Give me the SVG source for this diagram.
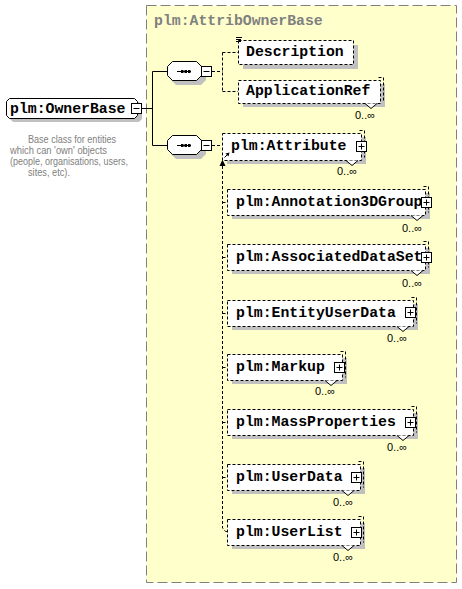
<svg xmlns="http://www.w3.org/2000/svg" width="462" height="589" viewBox="0 0 462 589">
<style>
.bg{fill:#ffffcc;stroke:#808080;stroke-width:1;stroke-dasharray:10,4}
.title{font-family:"Liberation Mono",monospace;font-weight:bold;font-size:14.8px;fill:#808080}
.nt{font-family:"Liberation Mono",monospace;font-weight:bold;font-size:14.8px;fill:#000}
.sh{fill:#c0c0c0}
.box{fill:#fff;stroke:#000;stroke-width:1;stroke-dasharray:3,2}
.sbox{fill:#fff;stroke:#000;stroke-width:1}
.btn{fill:#fff;stroke:#000;stroke-width:1}
.ln{stroke:#000;stroke-width:1;fill:none}
.dl{stroke:#000;stroke-width:1;fill:none;stroke-dasharray:3,2}
.occ{font-family:"Liberation Sans",Arial,sans-serif;font-size:11px;fill:#000}
.doc{font-family:"Liberation Sans",Arial,sans-serif;font-size:10.5px;fill:#808080}
.chev{fill:#fff;stroke:#000;stroke-width:1}
</style>
<defs>
<g id="minus"><rect class="btn" x="0.5" y="0.5" width="10" height="10"/><path class="ln" d="M2.5,5.5H8.5"/></g>
<g id="plus"><rect class="btn" x="0.5" y="0.5" width="10" height="10"/><path class="ln" d="M2.5,5.5H8.5M5.5,2.5V8.5"/></g>
<g id="seq">
<polygon class="sh" points="176,65 201,65 206,70 206,80 201,85 176,85 171,80 171,70"/>
<polygon class="sbox" points="172.5,61.5 196.5,61.5 201.5,66.5 201.5,75.5 196.5,80.5 172.5,80.5 167.5,75.5 167.5,66.5"/>
<path class="ln" d="M177,71.5H191"/>
<rect x="181" y="70" width="2.5" height="3" fill="#000"/>
<rect x="184.5" y="70" width="2.5" height="3" fill="#000"/>
<rect x="188" y="70" width="2.5" height="3" fill="#000"/>
</g>
</defs>

<rect class="bg" x="146.5" y="5.5" width="310" height="577"/>
<text class="title" x="154" y="25">plm:AttribOwnerBase</text>

<g id="connectors">
<path class="ln" d="M142,108.5H152.5M152.5,71.5V145.5M152.5,71.5H167M152.5,145.5H167"/>
<path class="dl" d="M212,71.5H222.5M222.5,52.5V91.5M222.5,52.5H238M222.5,91.5H238"/>
<path class="dl" d="M212,145.5H222"/>
<path class="dl" d="M222.5,166V528L225.5,531.5H227"/>
<path class="dl" d="M222.5,202.5H227M222.5,257.5H227M222.5,313.5H227M222.5,367.5H227M222.5,422.5H227M222.5,477.5H227"/>
<polygon points="222.5,159.5 219.5,166 225.5,166" fill="#000"/>
</g>

<g id="n-ownerbase">
<polygon class="sh" points="13,102 139,102 142,105 142,119 139,122 13,122 10,119 10,105"/>
<polygon class="sbox" points="9.5,98.5 134.5,98.5 137.5,101.5 137.5,115.5 134.5,118.5 9.5,118.5 6.5,115.5 6.5,101.5"/>
<text class="nt" x="10" y="113">plm:OwnerBase</text>
<use href="#minus" x="131" y="103"/>
<text class="doc"><tspan x="28" y="143" textLength="88" lengthAdjust="spacingAndGlyphs">Base class for entities</tspan><tspan x="10" y="154" textLength="97" lengthAdjust="spacingAndGlyphs">which can 'own' objects</tspan><tspan x="10" y="165" textLength="118" lengthAdjust="spacingAndGlyphs">(people, organisations, users,</tspan><tspan x="28" y="176" textLength="42" lengthAdjust="spacingAndGlyphs">sites, etc).</tspan></text>
</g>

<g id="n-seq1">
<use href="#seq"/>
<use href="#minus" x="201" y="66"/>
</g>
<g id="n-seq2">
<use href="#seq" y="74"/>
<use href="#minus" x="201" y="140"/>
</g>

<g id="n-description">
<rect class="sh" x="243" y="45" width="115" height="24"/>
<rect class="box" x="238.5" y="40.5" width="115" height="24"/>
<path class="ln" d="M236,37.5H242M236,39.5H241M236,41.5H241"/>
<text class="nt" x="246" y="56">Description</text>
</g>

<g id="n-applicationref">
<rect class="sh" x="243" y="84" width="142" height="23"/>
<rect class="box" x="238.5" y="80.5" width="142" height="23"/>
<path class="dl" d="M378.5,77.5H383.5V100.5"/>
<text class="nt" x="246" y="95">ApplicationRef</text>
<polyline class="chev" points="365,103.5 371,108.5 377,103.5"/>
<text class="occ" x="355" y="119">0..∞</text>
</g>

<g id="n-attribute">
<rect class="sh" x="227" y="137" width="139" height="27"/>
<rect class="box" x="222.5" y="133.5" width="139" height="27"/>
<path class="dl" d="M359.5,130.5H364.5V157.5"/>
<text class="nt" x="231" y="150">plm:Attribute</text>
<use href="#plus" x="356" y="141"/>
<path class="ln" d="M224.5,157.5L228.5,153.5"/>
<polygon points="229.5,152.5 225.5,153.5 228.5,156.5" fill="#000"/>
<polyline class="chev" points="346,160.5 352,165.5 358,160.5"/>
<text class="occ" x="337" y="175">0..∞</text>
</g>

<g id="n-annotation3dgroup">
<rect class="sh" x="232" y="193" width="198" height="26"/>
<rect class="box" x="227.5" y="189.5" width="198" height="26"/>
<path class="dl" d="M423.5,186.5H428.5V212.5"/>
<text class="nt" x="236" y="206">plm:Annotation3DGroup</text>
<use href="#plus" x="421" y="197"/>
<polyline class="chev" points="411,215.5 417,220.5 423,215.5"/>
<text class="occ" x="402" y="232">0..∞</text>
</g>

<g id="n-associateddataset">
<rect class="sh" x="232" y="248" width="198" height="26"/>
<rect class="box" x="227.5" y="244.5" width="198" height="26"/>
<path class="dl" d="M423.5,241.5H428.5V267.5"/>
<text class="nt" x="236" y="261">plm:AssociatedDataSet</text>
<use href="#plus" x="421" y="252"/>
<polyline class="chev" points="411,270.5 417,275.5 423,270.5"/>
<text class="occ" x="402" y="287">0..∞</text>
</g>

<g id="n-entityuserdata">
<rect class="sh" x="232" y="304" width="186" height="26"/>
<rect class="box" x="227.5" y="300.5" width="186" height="26"/>
<path class="dl" d="M411.5,297.5H416.5V323.5"/>
<text class="nt" x="236" y="317">plm:EntityUserData</text>
<use href="#plus" x="405" y="307"/>
<polyline class="chev" points="397,326.5 403,331.5 409,326.5"/>
<text class="occ" x="387" y="342">0..∞</text>
</g>

<g id="n-markup">
<rect class="sh" x="232" y="358" width="115" height="26"/>
<rect class="box" x="227.5" y="354.5" width="115" height="26"/>
<path class="dl" d="M340.5,351.5H345.5V377.5"/>
<text class="nt" x="236" y="371">plm:Markup</text>
<use href="#plus" x="334" y="362"/>
<polyline class="chev" points="325,380.5 331,385.5 337,380.5"/>
<text class="occ" x="315" y="395">0..∞</text>
</g>

<g id="n-massproperties">
<rect class="sh" x="232" y="413" width="186" height="26"/>
<rect class="box" x="227.5" y="409.5" width="186" height="26"/>
<path class="dl" d="M411.5,406.5H416.5V432.5"/>
<text class="nt" x="236" y="426">plm:MassProperties</text>
<use href="#plus" x="405" y="417"/>
<polyline class="chev" points="397,435.5 403,440.5 409,435.5"/>
<text class="occ" x="387" y="451">0..∞</text>
</g>

<g id="n-userdata">
<rect class="sh" x="232" y="468" width="133" height="26"/>
<rect class="box" x="227.5" y="464.5" width="133" height="26"/>
<path class="dl" d="M358.5,461.5H363.5V487.5"/>
<text class="nt" x="236" y="481">plm:UserData</text>
<use href="#plus" x="351" y="472"/>
<polyline class="chev" points="342,490.5 348,495.5 354,490.5"/>
<text class="occ" x="333" y="506">0..∞</text>
</g>

<g id="n-userlist">
<rect class="sh" x="232" y="523" width="133" height="26"/>
<rect class="box" x="227.5" y="519.5" width="133" height="26"/>
<path class="dl" d="M358.5,516.5H363.5V542.5"/>
<text class="nt" x="236" y="536">plm:UserList</text>
<use href="#plus" x="351" y="527"/>
<polyline class="chev" points="342,545.5 348,550.5 354,545.5"/>
<text class="occ" x="333" y="561">0..∞</text>
</g>
</svg>
